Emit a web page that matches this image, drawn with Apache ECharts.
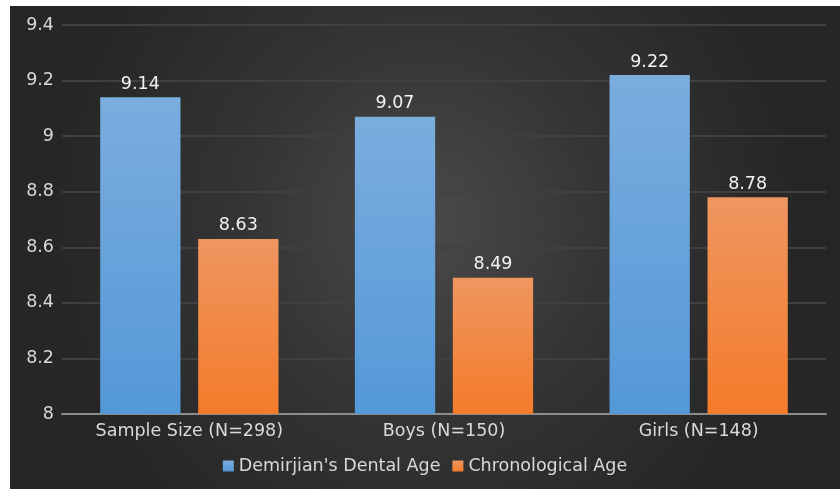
<!DOCTYPE html>
<html>
<head>
<meta charset="utf-8">
<script src="https://cdn.jsdelivr.net/npm/echarts@6/dist/echarts.min.js"></script>
<style>
  html, body { margin: 0; padding: 0; background: #fff; }
  #chart {
    position: absolute; left: 10px; top: 6px; width: 830px; height: 483px;
    background: radial-gradient(ellipse 45% 80% at 50% 45%, #4a4a4a 0%, #343434 50%, #262626 100%);
  }
</style>
</head>
<body>
<div id="chart"></div>
<script>
// 数据
const categories = ['Sample Size (N=298)', 'Boys (N=150)', 'Girls (N=148)']
const dentalAge = [9.14, 9.07, 9.22]
const chronoAge = [8.63, 8.49, 8.78]
const yTicks = [8, 8.2, 8.4, 8.6, 8.8, 9, 9.2, 9.4]

const chart = echarts.init(document.getElementById('chart'))
const font = 'DejaVu Sans'
const fs = 17.5

const grad = (top, bottom) => new echarts.graphic.LinearGradient(0, 0, 0, 1, [
  { offset: 0, color: top },
  { offset: 1, color: bottom }
])

const labelStyle = {
  show: true,
  position: 'top',
  distance: 4,
  color: '#f2f2f2',
  fontFamily: font,
  fontSize: fs
}

chart.setOption({
  backgroundColor: 'transparent',
  animation: false,
  grid: { left: 52, right: 14, top: 19, bottom: 75 },
  legend: {
    bottom: 9,
    left: 'center',
    itemWidth: 11,
    itemHeight: 11,
    itemGap: 12,
    icon: 'rect',
    textStyle: { color: '#d9d9d9', fontFamily: font, fontSize: fs },
    data: ["Demirjian's Dental Age", 'Chronological Age']
  },
  xAxis: {
    type: 'category',
    data: categories,
    axisTick: { show: false },
    axisLine: { lineStyle: { color: '#8c8c8c', width: 2 } },
    axisLabel: { color: '#d9d9d9', fontFamily: font, fontSize: fs, margin: 8 }
  },
  yAxis: {
    type: 'value',
    min: yTicks[0],
    max: yTicks[yTicks.length - 1],
    interval: 0.2,
    axisLine: { show: false },
    axisTick: { show: false },
    axisLabel: {
      color: '#d9d9d9', fontFamily: font, fontSize: fs, margin: 8,
      formatter: v => String(+v.toFixed(1))
    },
    splitLine: { lineStyle: { color: '#404040', width: 2 } }
  },
  series: [
    {
      name: "Demirjian's Dental Age",
      type: 'bar',
      data: dentalAge,
      barGap: '22%',
      barCategoryGap: '30%',
      itemStyle: { color: grad('#7badde', '#5498d8') },
      label: labelStyle
    },
    {
      name: 'Chronological Age',
      type: 'bar',
      data: chronoAge,
      itemStyle: { color: grad('#ef9660', '#f47b2a') },
      label: labelStyle
    }
  ]
})
</script>
</body>
</html>
